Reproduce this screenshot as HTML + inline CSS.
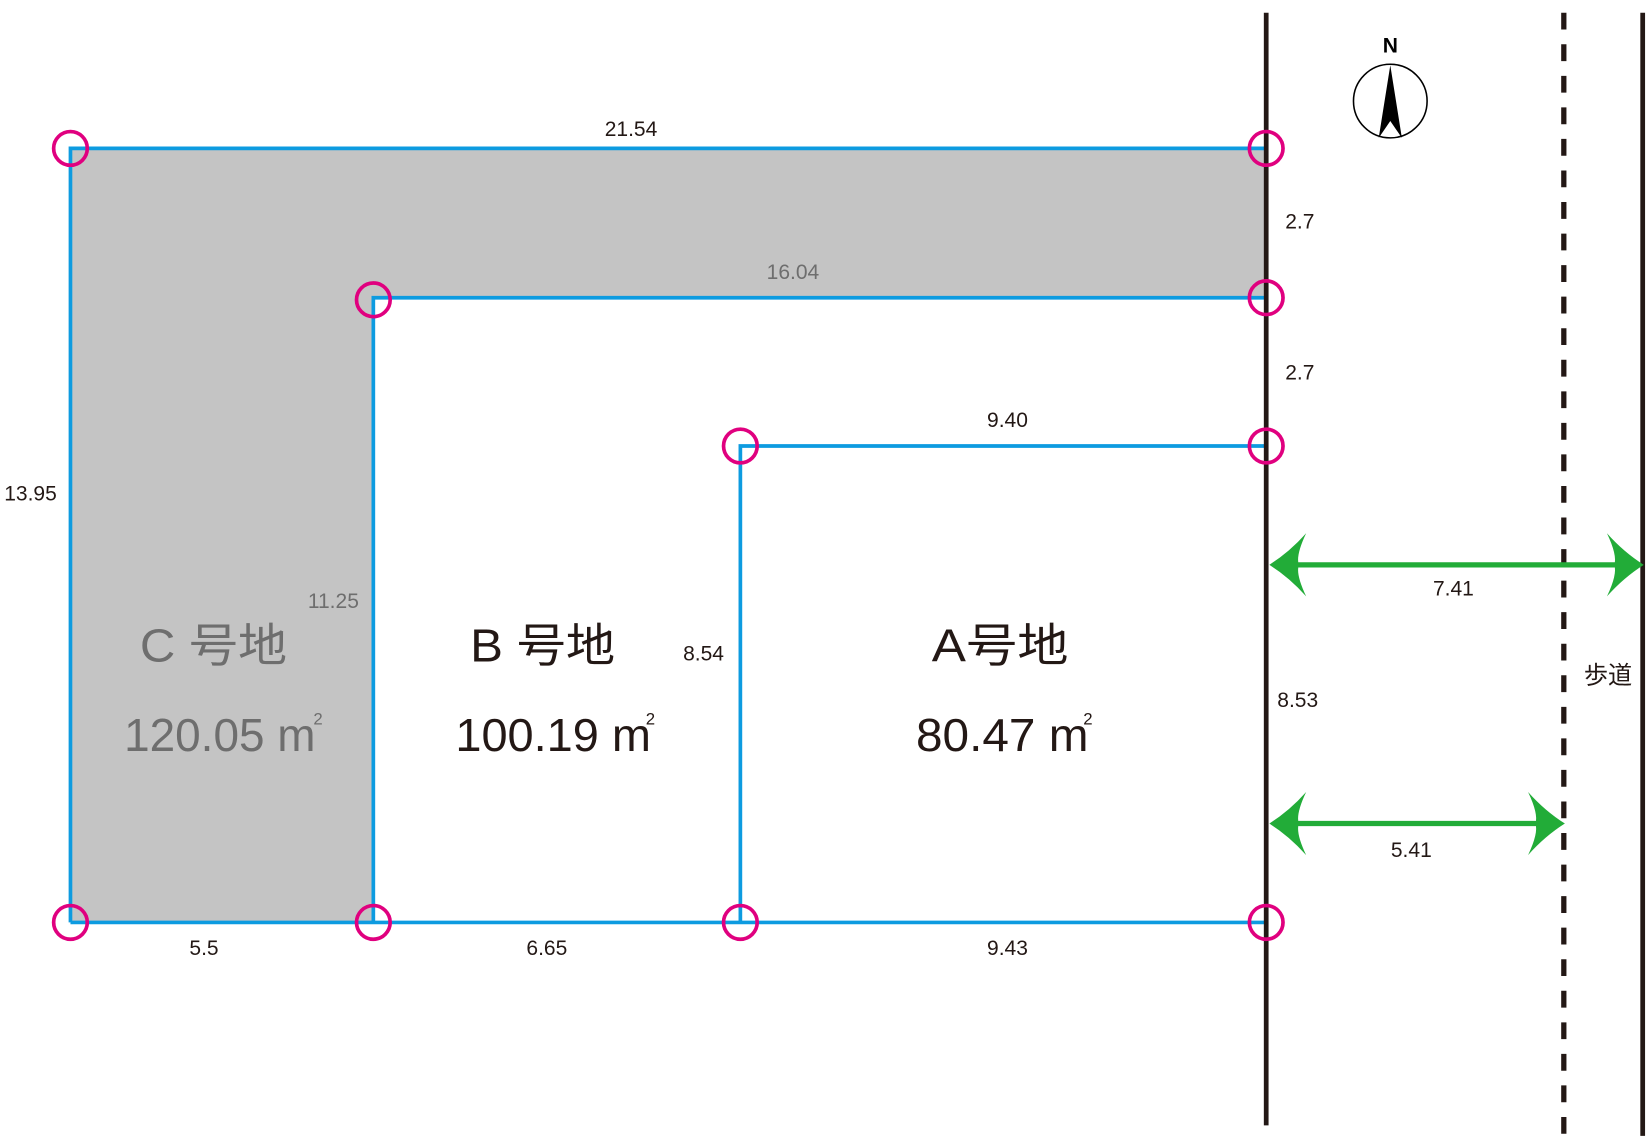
<!DOCTYPE html>
<html><head><meta charset="utf-8"><style>
html,body{margin:0;padding:0;background:#fff;}
svg{display:block;}
text{font-family:"Liberation Sans","Noto Sans CJK JP",sans-serif;}
</style></head><body>
<svg width="1649" height="1136" viewBox="0 0 1568 1080" xmlns="http://www.w3.org/2000/svg">
<rect width="1568" height="1080" fill="#fff"/>
<polygon points="67,141 1204,141 1204,283 355,283 355,877 67,877" fill="#c4c4c4"/>
<g stroke="#0d9be0" stroke-width="3.5" fill="none">
<polyline points="67,877 67,141 1204,141"/>
<polyline points="355,877 355,283 1204,283"/>
<polyline points="704,877 704,424 1204,424"/>
<line x1="67" y1="877" x2="1204" y2="877"/>
</g>
<line x1="1204" y1="12" x2="1204" y2="1070" stroke="#231815" stroke-width="4.5"/>
<line x1="1487" y1="12" x2="1487" y2="1080" stroke="#231815" stroke-width="5" stroke-dasharray="16,14"/>
<line x1="1562" y1="12" x2="1562" y2="1080" stroke="#231815" stroke-width="4.5"/>
<g fill="none" stroke="#e0007f" stroke-width="3.5">
<circle cx="67" cy="141" r="16"/><circle cx="1204" cy="141" r="16"/>
<circle cx="355" cy="285" r="16"/><circle cx="1204" cy="283" r="16"/>
<circle cx="704" cy="424" r="16"/><circle cx="1204" cy="424" r="16"/>
<circle cx="67" cy="877" r="16"/><circle cx="355" cy="877" r="16"/>
<circle cx="704" cy="877" r="16"/><circle cx="1204" cy="877" r="16"/>
</g>
<circle cx="1322" cy="96" r="35" fill="none" stroke="#000" stroke-width="1.5"/>
<path d="M1322,62 L1333,131 L1322,115 L1311,131 Z" fill="#000"/>
<text x="1322" y="50" font-size="20" font-weight="bold" text-anchor="middle">N</text>
<g stroke="#22ac38">
<line x1="1225" y1="537" x2="1545" y2="537" stroke-width="5"/>
<line x1="1225" y1="783" x2="1470" y2="783" stroke-width="5"/>
</g>
<g fill="#22ac38">
<path d="M1207,537 Q1226,525 1242,507 Q1232,528 1235,537 Q1232,546 1242,567 Q1226,549 1207,537Z"/>
<path d="M1563,537 Q1544,525 1528,507 Q1538,528 1535,537 Q1538,546 1528,567 Q1544,549 1563,537Z"/>
<path d="M1207,783 Q1226,771 1242,753 Q1232,774 1235,783 Q1232,792 1242,813 Q1226,795 1207,783Z"/>
<path d="M1488,783 Q1469,771 1453,753 Q1463,774 1460,783 Q1463,792 1453,813 Q1469,795 1488,783Z"/>
</g>
<g font-size="20" fill="#231815" text-anchor="middle">
<text x="600" y="129">21.54</text>
<text x="1236" y="217">2.7</text>
<text x="1236" y="361">2.7</text>
<text x="958" y="406">9.40</text>
<text x="29" y="476">13.95</text>
<text x="669" y="628">8.54</text>
<text x="1234" y="672">8.53</text>
<text x="1382" y="566">7.41</text>
<text x="1342" y="815">5.41</text>
<text x="194" y="908">5.5</text>
<text x="520" y="908">6.65</text>
<text x="958" y="908">9.43</text>
<text x="1529" y="650" font-size="23">歩道</text>
</g>
<g font-size="20" fill="#6e6e6e" text-anchor="middle">
<text x="754" y="265">16.04</text>
<text x="317" y="578">11.25</text>
</g>
<g font-size="44" fill="#6e6e6e">
<text x="133" y="629" textLength="140" lengthAdjust="spacingAndGlyphs">C 号地</text>
<text x="118" y="714" textLength="182" lengthAdjust="spacingAndGlyphs">120.05 m</text>
<text x="298" y="689" font-size="16">2</text>
</g>
<g font-size="44" fill="#231815">
<text x="447" y="629" textLength="138" lengthAdjust="spacingAndGlyphs">B 号地</text>
<text x="433" y="714" textLength="186" lengthAdjust="spacingAndGlyphs">100.19 m</text>
<text x="614" y="689" font-size="16">2</text>
<text x="886" y="629" textLength="130" lengthAdjust="spacingAndGlyphs">A号地</text>
<text x="871" y="714" textLength="164" lengthAdjust="spacingAndGlyphs">80.47 m</text>
<text x="1030" y="689" font-size="16">2</text>
</g>
</svg>
</body></html>
